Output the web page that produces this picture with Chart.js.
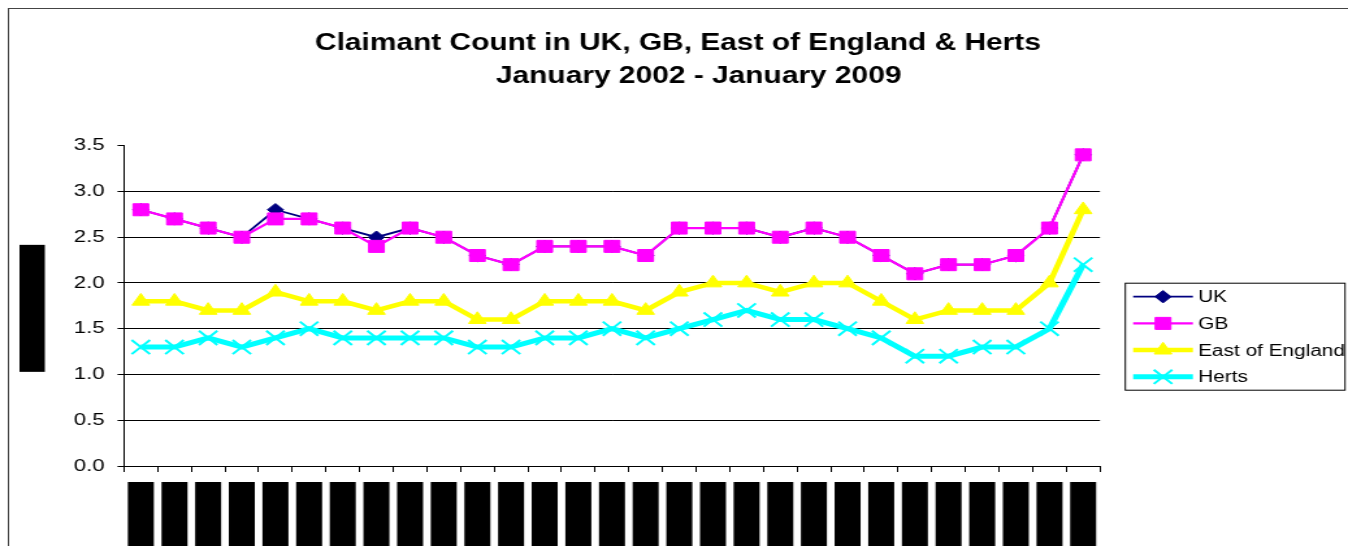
<!DOCTYPE html>
<html>
<head>
<meta charset="utf-8">
<script src="https://cdn.jsdelivr.net/npm/chart.js"></script>
<style>
  body { margin: 0; background: #fff; overflow: hidden; }
  /* the source picture is stretched sideways, so the canvas is too */
  canvas { display: block; transform: scaleX(1.2999); transform-origin: 0 0; }
</style>
</head>
<body>
<canvas id="claimantChart" width="1037" height="546"></canvas>
<script>
// quarterly points, Jan 2002 - Jan 2009
const quarters = ['Jan-02', 'Apr-02', 'Jul-02', 'Oct-02', 'Jan-03', 'Apr-03', 'Jul-03', 'Oct-03',
    'Jan-04', 'Apr-04', 'Jul-04', 'Oct-04', 'Jan-05', 'Apr-05', 'Jul-05', 'Oct-05',
    'Jan-06', 'Apr-06', 'Jul-06', 'Oct-06', 'Jan-07', 'Apr-07', 'Jul-07', 'Oct-07',
    'Jan-08', 'Apr-08', 'Jul-08', 'Oct-08', 'Jan-09'];

const ukValues = [2.8, 2.7, 2.6, 2.5, 2.8, 2.7, 2.6, 2.5, 2.6, 2.5, 2.3, 2.2, 2.4, 2.4, 2.4, 2.3,
    2.6, 2.6, 2.6, 2.5, 2.6, 2.5, 2.3, 2.1, 2.2, 2.2, 2.3, 2.6, 3.4];
const gbValues = [2.8, 2.7, 2.6, 2.5, 2.7, 2.7, 2.6, 2.4, 2.6, 2.5, 2.3, 2.2, 2.4, 2.4, 2.4, 2.3,
    2.6, 2.6, 2.6, 2.5, 2.6, 2.5, 2.3, 2.1, 2.2, 2.2, 2.3, 2.6, 3.4];
const eastValues = [1.8, 1.8, 1.7, 1.7, 1.9, 1.8, 1.8, 1.7, 1.8, 1.8, 1.6, 1.6, 1.8, 1.8, 1.8, 1.7,
    1.9, 2.0, 2.0, 1.9, 2.0, 2.0, 1.8, 1.6, 1.7, 1.7, 1.7, 2.0, 2.8];
const hertsValues = [1.3, 1.3, 1.4, 1.3, 1.4, 1.5, 1.4, 1.4, 1.4, 1.4, 1.3, 1.3, 1.4, 1.4, 1.5, 1.4,
    1.5, 1.6, 1.7, 1.6, 1.6, 1.5, 1.4, 1.2, 1.2, 1.3, 1.3, 1.5, 2.2];

const yTicks = [0, 0.5, 1.0, 1.5, 2.0, 2.5, 3.0, 3.5];

const FONT = '"Liberation Sans", Arial, sans-serif';

// outer frame around the whole picture
const frame = {
    id: 'frame',
    beforeDraw(chart) {
        const ctx = chart.ctx;
        ctx.save();
        ctx.strokeStyle = '#444';
        ctx.lineWidth = 1;
        ctx.strokeRect(6.5, 8.5, chart.width + 20, chart.height + 20);
        ctx.restore();
    }
};

// black blocks over the axis texts, as in the source image
const blocks = {
    id: 'blocks',
    afterDraw(chart) {
        const { ctx, chartArea, scales } = chart;
        ctx.save();
        ctx.fillStyle = '#000';
        scales.x.ticks.forEach((t, i) => {
            const px = scales.x.getPixelForTick(i);
            ctx.fillRect(px - 10, chartArea.bottom + 16, 20, 90);
        });
        const cy = (chartArea.top + chartArea.bottom) / 2 + 2;
        ctx.fillRect(scales.y.left + 9, cy - 63, 19.5, 127);
        ctx.restore();
    }
};

// legend box with line + marker samples
const legendBox = {
    id: 'legendBox',
    afterDraw(chart) {
        const { ctx, chartArea } = chart;
        const x0 = chartArea.right + 19.5;
        const y0 = chartArea.top + 137.5;
        ctx.save();
        ctx.strokeStyle = '#000';
        ctx.lineWidth = 1;
        ctx.strokeRect(x0, y0, 169, 107);
        chart.data.datasets.forEach((ds, i) => {
            const y = y0 + 13.5 + i * 26.7;
            ctx.strokeStyle = ds.borderColor;
            ctx.lineWidth = ds.borderWidth;
            ctx.beginPath();
            ctx.moveTo(x0 + 6, y);
            ctx.lineTo(x0 + 52, y);
            ctx.stroke();
            ctx.fillStyle = ds.pointBackgroundColor;
            ctx.strokeStyle = ds.pointBorderColor;
            ctx.lineWidth = ds.pointBorderWidth;
            Chart.helpers.drawPoint(ctx, {
                pointStyle: ds.pointStyle,
                radius: ds.pointRadius,
                borderWidth: ds.pointBorderWidth
            }, x0 + 29, y);
            ctx.font = '16px ' + FONT;
            ctx.textBaseline = 'middle';
            ctx.fillStyle = '#000';
            ctx.fillText(ds.label, x0 + 56, y + 1);
        });
        ctx.restore();
    }
};

function series(label, data, color, width, style, radius, order, pbw) {
    return {
        label: label,
        data: data,
        borderColor: color,
        backgroundColor: color,
        borderWidth: width,
        pointStyle: style,
        pointRadius: radius,
        pointHoverRadius: radius,
        pointBackgroundColor: color,
        pointBorderColor: color,
        pointBorderWidth: pbw,
        tension: 0,
        order: order
    };
}

new Chart(document.getElementById('claimantChart').getContext('2d'), {
    type: 'line',
    data: {
        labels: quarters,
        datasets: [
            series('UK', ukValues, '#000080', 1.8, 'rectRot', 6.2, 4, 1),
            series('GB', gbValues, '#FF00FF', 2.2, 'rect', 8.5, 3, 1),
            series('East of England', eastValues, '#FFFF00', 4.5, 'triangle', 7.8, 2, 1),
            series('Herts', hertsValues, '#00FFFF', 5, 'crossRot', 10, 1, 2)
        ]
    },
    options: {
        responsive: false,
        animation: false,
        layout: { padding: { left: 6, top: 8, right: 0, bottom: 0 } },
        plugins: {
            legend: { display: false },
            tooltip: { enabled: false },
            title: {
                display: true,
                text: ['Claimant Count in UK, GB, East of England & Herts', '     January 2002 - January 2009'],
                color: '#000',
                font: { family: FONT, size: 23, weight: 'bold', lineHeight: 1.45 },
                padding: { top: 19, bottom: 52 }
            }
        },
        scales: {
            x: {
                offset: true,
                afterFit: (scale) => { scale.height = 80; },
                border: { display: true, color: '#000', width: 1 },
                grid: { offset: true, drawOnChartArea: false, drawTicks: true, tickLength: 6, color: '#000' },
                ticks: {
                    autoSkip: false,
                    minRotation: 90,
                    maxRotation: 90,
                    padding: 14,
                    color: '#000',
                    font: { family: FONT, size: 14, weight: 'bold' }
                }
            },
            y: {
                min: 0,
                max: 3.5,
                afterFit: (scale) => { scale.width = 89.4; },
                afterBuildTicks: (scale) => { scale.ticks = yTicks.map(v => ({ value: v })); },
                border: { display: true, color: '#000', width: 1 },
                grid: {
                    color: (c) => (c.tick && c.tick.value === 3.5 ? 'rgba(0,0,0,0)' : '#000'),
                    tickColor: '#000',
                    tickLength: 5,
                    lineWidth: 1
                },
                title: {
                    display: true,
                    text: 'Rate (%)',
                    color: '#000',
                    font: { family: FONT, size: 18, weight: 'bold' },
                    padding: { top: 8, bottom: 0 }
                },
                ticks: {
                    padding: 10,
                    color: '#000',
                    font: { family: FONT, size: 17 },
                    callback: (v) => Number(v).toFixed(1)
                }
            },
            yRight: {
                position: 'right',
                display: true,
                afterFit: (scale) => { scale.width = 190.8; },
                border: { display: false },
                grid: { display: false },
                ticks: { display: false }
            }
        }
    },
    plugins: [frame, blocks, legendBox]
});
</script>
</body>
</html>
